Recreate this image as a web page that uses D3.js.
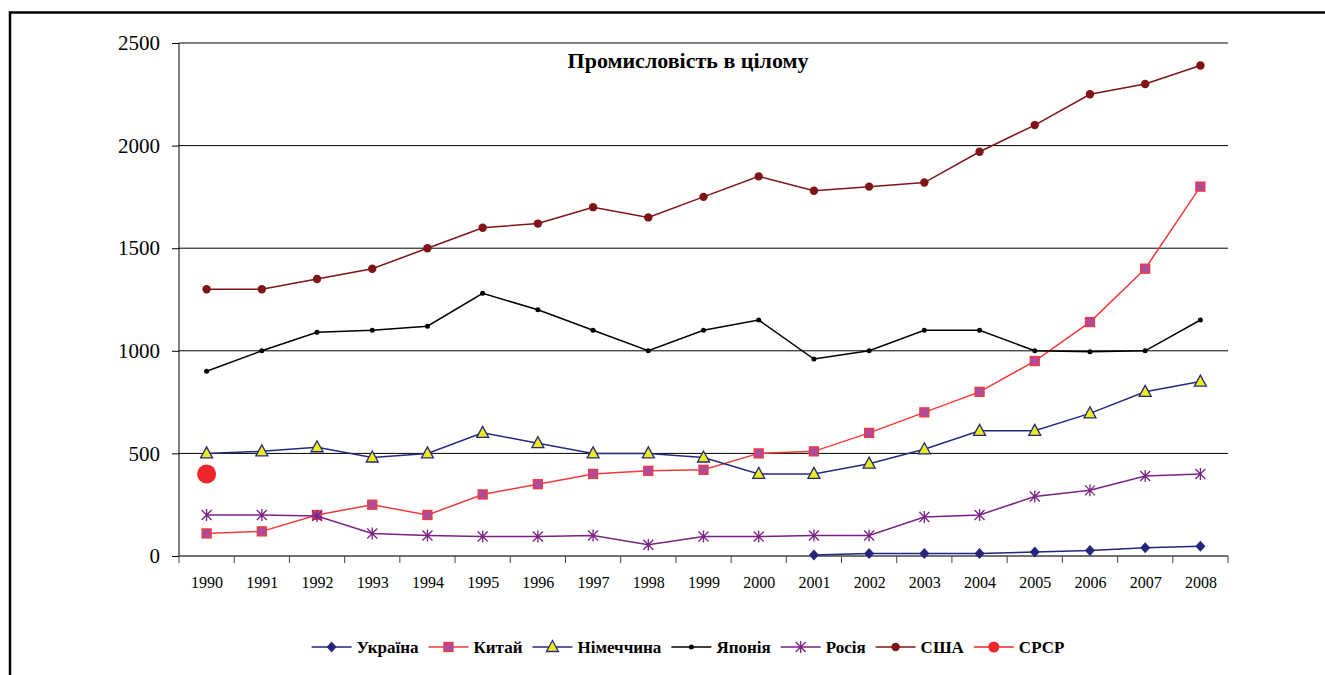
<!DOCTYPE html>
<html>
<head>
<meta charset="utf-8">
<script src="https://cdn.jsdelivr.net/npm/d3@7"></script>
<style>
  body { margin: 0; background: #fff; }
  svg { display: block; }
  text { font-family: "Liberation Serif", "Times New Roman", serif; }
</style>
</head>
<body>
<svg id="graph" width="1325" height="675"></svg>
<script>
const years = [1990, 1991, 1992, 1993, 1994, 1995, 1996, 1997, 1998, 1999,
               2000, 2001, 2002, 2003, 2004, 2005, 2006, 2007, 2008];
const yTicks = [0, 500, 1000, 1500, 2000, 2500];

const ukraine = [null, null, null, null, null, null, null, null, null, null,
                 null, 5, 12, 12, 12, 20, 27, 40, 48];
const china = [110, 120, 200, 250, 200, 300, 350, 400, 415, 420,
               500, 510, 600, 700, 800, 950, 1140, 1400, 1800];
const germany = [500, 510, 530, 480, 500, 600, 550, 500, 500, 480,
                 400, 400, 450, 520, 610, 610, 695, 800, 850];
const japan = [900, 1000, 1090, 1100, 1120, 1280, 1200, 1100, 1000, 1100,
               1150, 960, 1000, 1100, 1100, 1000, 995, 1000, 1150];
const russia = [200, 200, 195, 110, 100, 95, 95, 100, 55, 95,
                95, 100, 100, 190, 200, 290, 320, 390, 400];
const usa = [1300, 1300, 1350, 1400, 1500, 1600, 1620, 1700, 1650, 1750,
             1850, 1780, 1800, 1820, 1970, 2100, 2250, 2300, 2390];
const ussr = [400, null, null, null, null, null, null, null, null, null,
              null, null, null, null, null, null, null, null, null];

const title = "Промисловість в цілому";

const series = [
    { name: "Україна", values: ukraine, line: "#23267a", marker: "diamond", fill: "#23267a", stroke: "#23267a" },
    { name: "Китай", values: china, line: "#f03a3a", marker: "square", fill: "#b04a9c", stroke: "#f03a3a" },
    { name: "Німеччина", values: germany, line: "#26297e", marker: "triangle", fill: "#ecec1a", stroke: "#26297e" },
    { name: "Японія", values: japan, line: "#000000", marker: "dot", fill: "#000000", stroke: "#000000" },
    { name: "Росія", values: russia, line: "#7a2283", marker: "asterisk", fill: "none", stroke: "#7a2283" },
    { name: "США", values: usa, line: "#7e1416", marker: "circle", fill: "#7e1416", stroke: "#7e1416" },
    { name: "СРСР", values: ussr, line: "#ee2529", marker: "big", fill: "#ee2529", stroke: "#ee2529" }
];

const svg = d3.select("#graph");
const font = "'Liberation Serif', 'Times New Roman', serif";

// outer frame
svg.append("path")
    .attr("d", "M10,676 L10,12.5 L1330,12.5")
    .attr("fill", "none")
    .attr("stroke", "#000")
    .attr("stroke-width", 2.5);

const pLeft = 179, pRight = 1228, pTop = 43, pBottom = 556;

const scX = d3.scalePoint().domain(years).range([pLeft, pRight]).padding(0.5);
const scEdge = d3.scaleLinear().domain([0, years.length]).range([pLeft, pRight]);
const scY = d3.scaleLinear().domain([0, 2500]).range([pBottom, pTop]);

// gridlines
svg.append("g")
    .selectAll("line")
    .data(yTicks.filter(d => d > 0))
    .enter()
    .append("line")
    .attr("x1", pLeft).attr("x2", pRight)
    .attr("y1", d => scY(d)).attr("y2", d => scY(d))
    .attr("stroke", "#000")
    .attr("stroke-width", 1);

// y axis
let axY = svg.append("g")
    .attr("transform", "translate(" + pLeft + ",0)")
    .call(d3.axisLeft(scY).tickValues(yTicks).tickSize(7).tickPadding(12).tickFormat(d3.format("d")));
axY.attr("font-family", null);
axY.selectAll("text").style("font-family", font).attr("font-size", 21).attr("fill", "#000");
axY.selectAll("line, path").attr("stroke", "#000");
axY.select(".domain").attr("d", "M0," + pTop + "V" + pBottom);

// x axis
let axX = svg.append("g")
    .attr("transform", "translate(0," + pBottom + ")")
    .call(d3.axisBottom(scX).tickSize(0).tickPadding(21));
axX.attr("font-family", null);
axX.selectAll("text").style("font-family", font).attr("font-size", 16).attr("fill", "#000");
axX.select(".domain").attr("d", "M" + pLeft + ",0H" + pRight).attr("stroke", "#444").attr("stroke-width", 1.5);
axX.selectAll(".edge")
    .data(d3.range(years.length + 1))
    .enter()
    .append("line")
    .attr("class", "edge")
    .attr("x1", d => scEdge(d)).attr("x2", d => scEdge(d))
    .attr("y1", 0).attr("y2", 7)
    .attr("stroke", "#444");

// title
svg.append("text")
    .attr("x", 688).attr("y", 68)
    .attr("text-anchor", "middle")
    .style("font-family", font)
    .attr("font-weight", "bold")
    .attr("font-size", 22)
    .text(title);

function drawMarker(g, s, x, y) {
    if (s.marker === "diamond") {
        g.append("path").attr("d", `M${x},${y - 5.5}L${x + 5},${y}L${x},${y + 5.5}L${x - 5},${y}Z`)
            .attr("fill", s.fill);
    } else if (s.marker === "square") {
        g.append("rect").attr("x", x - 4.5).attr("y", y - 4.5).attr("width", 9).attr("height", 9)
            .attr("fill", s.fill).attr("stroke", s.stroke).attr("stroke-width", 1.3);
    } else if (s.marker === "triangle") {
        g.append("path").attr("d", `M${x},${y - 6.5}L${x + 6},${y + 4.5}L${x - 6},${y + 4.5}Z`)
            .attr("fill", s.fill).attr("stroke", s.stroke).attr("stroke-width", 1.3);
    } else if (s.marker === "dot") {
        g.append("circle").attr("cx", x).attr("cy", y).attr("r", 2.5).attr("fill", s.fill);
    } else if (s.marker === "asterisk") {
        g.append("path")
            .attr("d", `M${x},${y - 6}V${y + 6}M${x - 5},${y - 5}L${x + 5},${y + 5}M${x - 5},${y + 5}L${x + 5},${y - 5}`)
            .attr("stroke", s.stroke).attr("stroke-width", 1.3).attr("fill", "none");
    } else if (s.marker === "circle") {
        g.append("circle").attr("cx", x).attr("cy", y).attr("r", 4.2).attr("fill", s.fill);
    } else if (s.marker === "big") {
        g.append("circle").attr("cx", x).attr("cy", y).attr("r", 9.5).attr("fill", s.fill);
    }
}

const lnMkr = d3.line()
    .defined(d => d.v != null)
    .x(d => scX(d.year))
    .y(d => scY(d.v));

series.forEach(s => {
    const pts = years.map((yr, i) => ({ year: yr, v: s.values[i] }));
    const g = svg.append("g");
    g.append("path")
        .attr("d", lnMkr(pts))
        .attr("fill", "none")
        .attr("stroke", s.line)
        .attr("stroke-width", 1.5);
    pts.filter(p => p.v != null).forEach(p => drawMarker(g, s, scX(p.year), scY(p.v)));
});

// legend
const leg = svg.append("g");
let lx = 0;
const legY = 647;
series.forEach(s => {
    const it = leg.append("g").attr("transform", "translate(" + lx + ",0)");
    it.append("line").attr("x1", 0).attr("x2", 40).attr("y1", legY).attr("y2", legY)
        .attr("stroke", s.line).attr("stroke-width", 1.5);
    if (s.marker === "big") {
        it.append("circle").attr("cx", 20).attr("cy", legY).attr("r", 5.5).attr("fill", s.fill);
    } else {
        drawMarker(it, s, 20, legY);
    }
    const t = it.append("text").attr("x", 45).attr("y", legY + 6)
        .style("font-family", font).attr("font-weight", "bold").attr("font-size", 17)
        .text(s.name);
    lx += 45 + t.node().getComputedTextLength() + 10;
});
lx -= 10;
leg.attr("transform", "translate(" + (688 - lx / 2) + ",0)");
</script>
</body>
</html>
